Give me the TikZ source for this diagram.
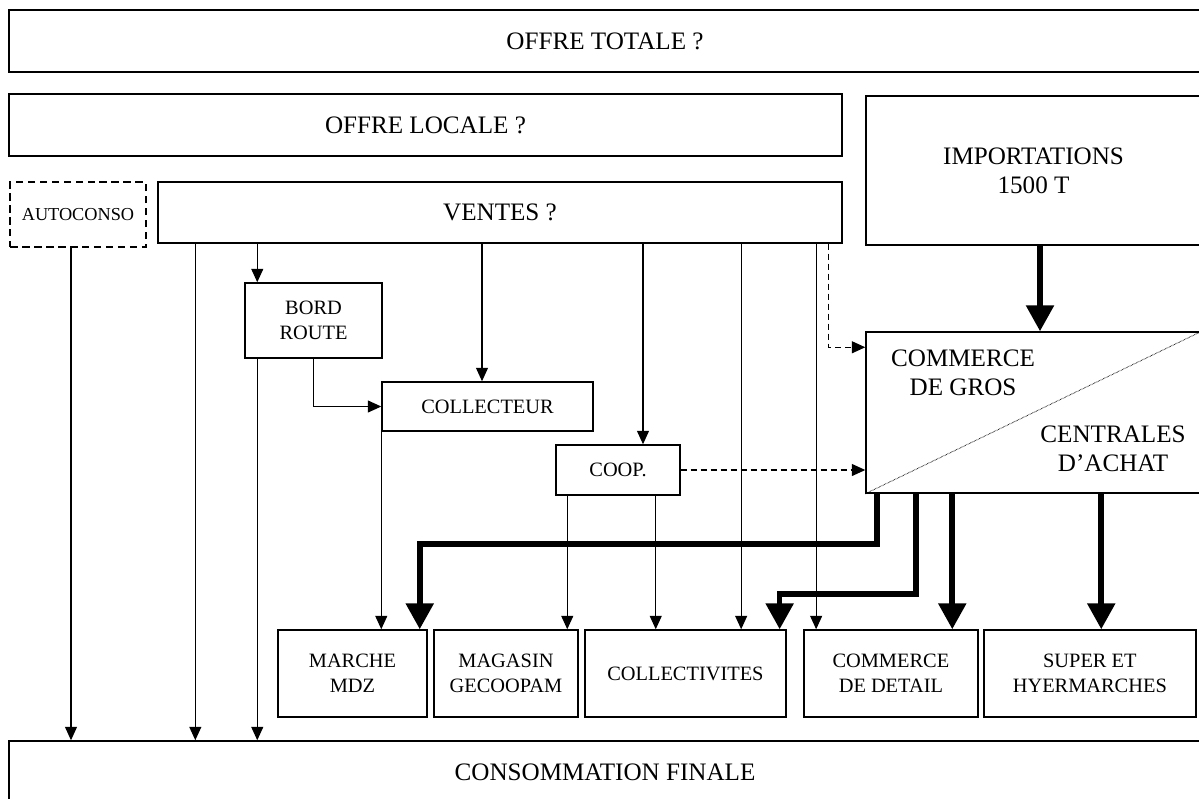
\documentclass[tikz,border=0pt]{standalone}
\usepackage{fontspec}
\setmainfont{Liberation Serif}
\usepackage{tikz}
\usetikzlibrary{arrows.meta,calc,positioning}
\newcommand{\bigfont}{\fontsize{14.3}{16.5}\selectfont}
\newcommand{\midfont}{\fontsize{11.6}{14.2}\selectfont}
\newcommand{\smallfont}{\fontsize{10.4}{12}\selectfont}
\tikzset{
  box/.style={draw,line width=0.85pt,align=center,inner sep=0pt,font=\bigfont},
  unit/.style={draw,line width=0.85pt,align=center,inner sep=0pt,font=\midfont},
  flow/.style={-{Triangle[length=2.7mm,width=2.4mm]},line width=0.7pt},
  hint/.style={flow,dash pattern=on 1.2mm off 0.8mm},
  bulk/.style={-{Triangle[length=5.2mm,width=5.4mm]},line width=3.2pt}
}
\begin{document}
\begin{tikzpicture}[x=0.02cm,y=-0.02cm]
  \useasboundingbox (0,0) rectangle (1199,798);
  % supply
  \node[box,minimum width=238.4mm,minimum height=12.4mm] (tot) at (605,41) {OFFRE TOTALE ?};
  \node[box,minimum width=166.6mm,minimum height=12.4mm] (loc) at (425.5,125) {OFFRE LOCALE ?};
  \node[box,minimum width=67mm,minimum height=29.8mm] (imp) at (1033.5,170.5) {IMPORTATIONS\\1500 T};
  \node[unit,font=\smallfont,dash pattern=on 1.5mm off 0.9mm,minimum width=27.2mm,minimum height=13mm] (auto) at (78,214.5) {AUTOCONSO};
  \node[box,minimum width=136.8mm,minimum height=12.2mm] (ventes) at (500,212.5) {VENTES ?};
  % intermediaries
  \node[unit,minimum width=27.4mm,minimum height=15mm] (bord) at (313.5,320.5) {BORD\\ROUTE};
  \node[unit,minimum width=42.2mm,minimum height=9.8mm] (coll) at (487.5,406.5) {COLLECTEUR};
  \node[unit,minimum width=24.8mm,minimum height=10mm] (coop) at (618,470) {COOP.};
  \node[draw,line width=0.85pt,minimum width=67mm,minimum height=32.2mm] (gros) at (1033.5,412.5) {};
  \draw[line width=0.5pt,dash pattern=on 0.3pt off 0.5pt] (gros.south west) -- (gros.north east);
  \node[font=\bigfont,align=center] (grosA) at (963,373) {COMMERCE\\DE GROS};
  \node[font=\bigfont,align=center] (grosB) at (1113,449) {CENTRALES\\D'ACHAT};
  % outlets
  \node[unit,minimum width=29.8mm,minimum height=17.4mm] (marche) at (352.5,673.5) {MARCHE\\MDZ};
  \node[unit,minimum width=28.8mm,minimum height=17.4mm,right=1.1mm of marche] (magasin) {MAGASIN\\GECOOPAM};
  \node[unit,minimum width=40.2mm,minimum height=17.4mm,right=1.1mm of magasin] (collect) {COLLECTIVITES};
  \node[unit,minimum width=34.8mm,minimum height=17.4mm,right=3.3mm of collect] (detail) {COMMERCE\\DE DETAIL};
  \node[unit,minimum width=42.4mm,minimum height=17.4mm,right=0.9mm of detail] (super) {SUPER ET\\HYERMARCHES};
  \node[box,minimum width=238.4mm,minimum height=12.4mm] (conso) at (605,772) {CONSOMMATION FINALE};
  % thin flows
  \draw[flow] ([xshift=-1.4mm]auto.south) coordinate (a1) -- (a1 |- conso.north);
  \draw[flow] ([xshift=7.6mm]ventes.south west) coordinate (v1) -- (v1 |- conso.north);
  \draw[flow] ([xshift=2.6mm]bord.north west |- ventes.south) -- ([xshift=2.6mm]bord.north west);
  \draw[flow] ([xshift=2.6mm]bord.south west) coordinate (b2) -- (b2 |- conso.north);
  \draw[flow] (bord.south) |- (coll.west);
  \draw[flow] ([xshift=-1.1mm]coll.north |- ventes.south) -- ([xshift=-1.1mm]coll.north);
  \draw[flow] ([xshift=5mm]coop.north |- ventes.south) -- ([xshift=5mm]coop.north);
  \draw[flow] (coll.south west) -- (coll.south west |- marche.north);
  \draw[flow] ([xshift=2.4mm]coop.south west) coordinate (c1) -- (c1 |- magasin.north);
  \draw[flow] ([xshift=-5mm]coop.south east) coordinate (c2) -- (c2 |- collect.north);
  \draw[flow] ([xshift=31.4mm]collect.north west |- ventes.south) -- ([xshift=31.4mm]collect.north west);
  \draw[flow] ([xshift=2.6mm]detail.north west |- ventes.south) -- ([xshift=2.6mm]detail.north west);
  % dashed flows
  \draw[hint] ([xshift=-2.8mm]ventes.south east) |- ([yshift=-3.2mm]gros.north west);
  \draw[hint] (coop.east) -- (coop.east -| gros.west);
  % bulk flows
  \draw[bulk] ([xshift=1.3mm]imp.south) -- ([xshift=1.3mm]gros.north);
  \draw[bulk] ([xshift=2.4mm]gros.south west) -- ++(0,-10mm) -| ([xshift=-1.6mm]marche.north east);
  \draw[bulk] ([xshift=10.2mm]gros.south west) -- ++(0,-20mm) -| ([xshift=-1.4mm]collect.north east);
  \draw[bulk] ([xshift=17.4mm]gros.south west) coordinate (g3) -- (g3 |- detail.north);
  \draw[bulk] ([xshift=47.2mm]gros.south west) coordinate (g4) -- (g4 |- super.north);
\end{tikzpicture}
\end{document}
